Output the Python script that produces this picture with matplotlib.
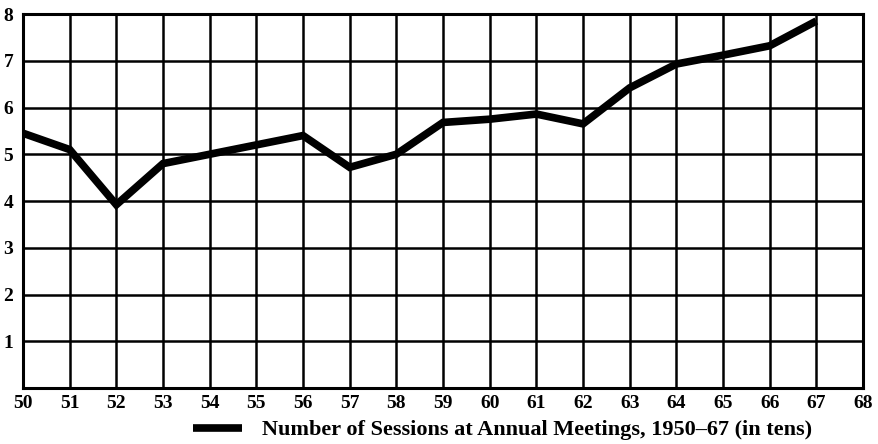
import matplotlib
matplotlib.use("Agg")
import matplotlib.pyplot as plt

# number of sessions at annual meetings, in tens
years = [50, 51, 52, 53, 54, 55, 56, 57, 58, 59, 60, 61, 62, 63, 64, 65, 66, 67]
sessions = [5.45, 5.1, 3.92, 4.8, 5.0, 5.2, 5.4, 4.72, 5.0, 5.68, 5.75, 5.86, 5.65, 6.42, 6.93, 7.12, 7.32, 7.85]
x_ticks = list(range(50, 69))
y_ticks = [1, 2, 3, 4, 5, 6, 7, 8]
label = "Number of Sessions at Annual Meetings, 1950\u201367 (in tens)"

plt.rcParams['font.family'] = ['Liberation Serif', 'DejaVu Serif']

fig = plt.figure(figsize=(8.79, 4.44), dpi=100)
ax = fig.add_axes([23 / 879, 1 - 388 / 444, 840 / 879, 374 / 444])

line, = ax.plot(years, sessions, color='black', linewidth=5.5, solid_joinstyle='miter',
                solid_capstyle='butt', zorder=3)

ax.set_xlim(50, 68)
ax.set_ylim(0, 8)
ax.set_xticks(x_ticks)
ax.set_yticks(y_ticks)
ax.set_xticklabels([str(x) for x in x_ticks], fontsize=14, fontweight='bold')
ax.set_yticklabels([str(y) for y in y_ticks], fontsize=14, fontweight='bold')
ax.tick_params(length=0, pad=5)
ax.tick_params(axis='y', pad=7)
ax.grid(True, color='black', linewidth=1.8)
for s in ax.spines.values():
    s.set_linewidth(2.2)

fig.legend([line], [label], loc='center', bbox_to_anchor=(0.572, 1 - 430 / 444),
           frameon=False, handlelength=2.2, handletextpad=0.9,
           prop={'weight': 'bold', 'size': 16})

fig.savefig("out.png", dpi=100)
